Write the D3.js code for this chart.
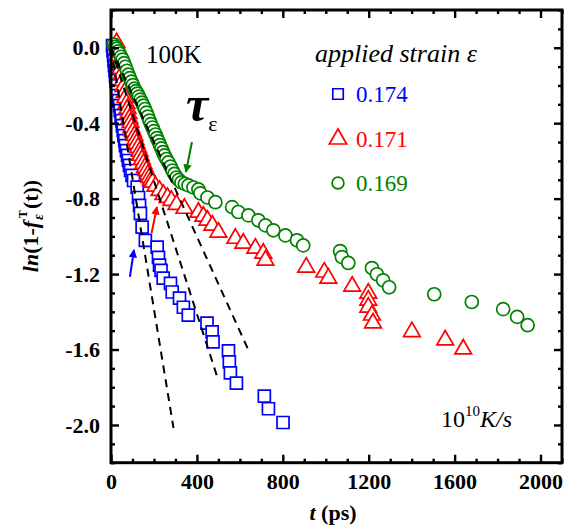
<!DOCTYPE html>
<html>
<head>
<meta charset="utf-8">
<script src="https://cdn.jsdelivr.net/npm/d3@7"></script>
<style>
  body { margin: 0; background: #fff; }
  svg { display: block; }
  text { font-family: "Liberation Serif", "Times New Roman", serif; }
</style>
</head>
<body>
<svg id="chart" width="579" height="529"></svg>
<script>
// Relaxation data ln(1 - f(t)) at 100 K for three applied strains
const blueT = [7,9,12,14,16,19,21,23,26,28,30,35,40,43,47,50,53,57,60,64,67,72,77,81,86,91,98,105,
  122,128,133,137,145,160,215,221,226,233,243,277,285,319,337,360,447,471,475,547,551,556,584,714,733,801];
const blueY = [0.011,-0.016,-0.042,-0.069,-0.095,-0.122,-0.148,-0.175,-0.201,-0.228,-0.254,-0.280,-0.307,-0.333,-0.360,-0.386,-0.413,-0.439,-0.466,-0.492,-0.519,-0.545,-0.571,-0.598,-0.624,-0.651,-0.677,-0.704,
  -0.739,-0.794,-0.836,-0.878,-0.951,-1.021,-1.057,-1.111,-1.153,-1.180,-1.222,-1.249,-1.295,-1.328,-1.376,-1.418,-1.460,-1.506,-1.559,-1.607,-1.665,-1.724,-1.778,-1.847,-1.914,-1.987];

const redT = [26,30,35,40,44,49,54,58,63,67,72,77,81,86,91,95,102,109,114,119,126,133,137,144,151,158,165,172,179,186,193,207,226,244,263,281,305,342,
  407,430,449,472,500,579,616,672,709,719,909,993,1012,1123,1198,1198,1198,1215,1220,1401,1556,1640];
const redY = [0.026,-0.005,-0.042,-0.074,-0.111,-0.143,-0.175,-0.206,-0.238,-0.265,-0.296,-0.323,-0.349,-0.376,-0.397,-0.423,-0.444,-0.466,-0.487,-0.508,-0.529,-0.550,-0.571,-0.593,-0.614,-0.635,-0.651,-0.672,-0.688,-0.704,-0.714,-0.735,-0.757,-0.778,-0.794,-0.810,-0.831,-0.852,
  -0.873,-0.894,-0.915,-0.942,-0.979,-1.011,-1.037,-1.063,-1.090,-1.127,-1.164,-1.190,-1.222,-1.265,-1.302,-1.339,-1.376,-1.418,-1.460,-1.506,-1.550,-1.598];

const greenT = [12,19,26,33,40,47,54,61,67,74,81,88,95,102,109,116,123,130,137,144,151,158,165,172,179,186,193,200,207,214,
  221,228,235,242,249,258,267,277,286,295,305,316,328,344,361,384,407,416,449,486,564,593,640,686,719,756,812,866,895,1067,
  1075,1105,1215,1238,1267,1295,1505,1680,1826,1891,1940];
const greenY = [0.016,0.005,-0.005,-0.019,-0.032,-0.048,-0.063,-0.082,-0.101,-0.122,-0.143,-0.161,-0.180,-0.198,-0.217,-0.230,-0.243,-0.259,-0.275,-0.291,-0.307,-0.325,-0.344,-0.365,-0.386,-0.405,-0.423,-0.442,-0.460,-0.479,
  -0.497,-0.516,-0.534,-0.553,-0.571,-0.590,-0.608,-0.630,-0.651,-0.669,-0.688,-0.701,-0.714,-0.722,-0.730,-0.741,-0.751,-0.772,-0.794,-0.819,-0.845,-0.871,-0.889,-0.915,-0.942,-0.968,-0.995,-1.021,-1.048,-1.078,
  -1.110,-1.141,-1.168,-1.201,-1.233,-1.270,-1.307,-1.348,-1.386,-1.427,-1.471];

// Initial-slope fits, drawn from the origin to these end points
const fitEndT = [291, 495, 640];
const fitEndY = [-2.016, -1.746, -1.603];

// Arrows marking tau_epsilon on each curve: tail -> head (data units)
const arrowTail = [[88, -1.215], [189, -0.982], [377, -0.500]];
const arrowHead = [[107, -1.072], [214, -0.844], [349, -0.659]];

const strainLabels = ["0.174", "0.171", "0.169"];
const xTicks = [0, 400, 800, 1200, 1600, 2000];
const yTicks = [0.0, -0.4, -0.8, -1.2, -1.6, -2.0];

const colors = ["#0000ff", "#ff0000", "#008000"];
const series = [
  { t: blueT, y: blueY, shape: d3.symbolSquare, size: 144 },
  { t: redT, y: redY, shape: d3.symbolTriangle, size: 120 },
  { t: greenT, y: greenY, shape: d3.symbolCircle, size: 133 }
];

const svg = d3.select("#chart");
const m = { left: 111, right: 562, top: 10, bottom: 462.7 };

const x = d3.scaleLinear().domain([0, 2100]).range([m.left, m.right]);
const y = d3.scaleLinear().domain([-2.2, 0.2]).range([m.bottom, m.top]);

const defs = svg.append("defs");
colors.forEach((c, i) => {
  defs.append("marker")
    .attr("id", "ah" + i)
    .attr("viewBox", "0 0 10 10")
    .attr("refX", 9).attr("refY", 5)
    .attr("markerWidth", 4.2).attr("markerHeight", 4.2)
    .attr("markerUnits", "strokeWidth")
    .attr("orient", "auto")
    .append("path").attr("d", "M0,0L10,5L0,10Z").attr("fill", c);
});

// Data markers (white-filled, drawn in order blue, red, green)
series.forEach((s, i) => {
  const sym = d3.symbol().type(s.shape).size(s.size);
  svg.append("g").selectAll("path")
    .data(s.t.map((t, k) => [t, s.y[k]]))
    .join("path")
    .attr("d", sym)
    .attr("transform", d => `translate(${x(d[0])},${y(d[1])})`)
    .attr("fill", "#fff")
    .attr("stroke", colors[i])
    .attr("stroke-width", 1.7);
});

// Dashed linear fits
svg.append("g").selectAll("line")
  .data(fitEndT.map((t, k) => [t, fitEndY[k]]))
  .join("line")
  .attr("x1", x(0)).attr("y1", y(0))
  .attr("x2", d => x(d[0])).attr("y2", d => y(d[1]))
  .attr("stroke", "#000").attr("stroke-width", 2)
  .attr("stroke-dasharray", "8,6");

// Arrows
svg.append("g").selectAll("line")
  .data(arrowTail.map((a, k) => [a, arrowHead[k], k]))
  .join("line")
  .attr("x1", d => x(d[0][0])).attr("y1", d => y(d[0][1]))
  .attr("x2", d => x(d[1][0])).attr("y2", d => y(d[1][1]))
  .attr("stroke", d => colors[d[2]]).attr("stroke-width", 2)
  .attr("marker-end", d => `url(#ah${d[2]})`);

// Axes: ticks inward on all four sides
const minorX = d3.range(0, 2101, 100).filter(v => v % 400 !== 0);
const minorY = d3.range(-22, 3, 1).map(v => v / 10).filter(v => Math.abs(Math.round(v * 10)) % 4 !== 0);

function styleAxis(g) {
  g.select(".domain").remove();
  g.selectAll(".tick line").attr("stroke", "#000").attr("stroke-width", 2.4);
}

const fontTick = "bold 22px 'Liberation Serif', serif";

svg.append("g").attr("transform", `translate(0,${m.bottom})`)
  .call(d3.axisBottom(x).tickValues(xTicks).tickSizeInner(-8).tickSizeOuter(0).tickPadding(11).tickFormat(d3.format("d")))
  .call(styleAxis)
  .call(g => g.selectAll("text").style("font", fontTick).attr("fill", "#000"));
svg.append("g").attr("transform", `translate(0,${m.bottom})`)
  .call(d3.axisBottom(x).tickValues(minorX).tickSizeInner(-4).tickSizeOuter(0).tickFormat(""))
  .call(styleAxis);
svg.append("g").attr("transform", `translate(0,${m.top})`)
  .call(d3.axisTop(x).tickValues(xTicks).tickSizeInner(-8).tickSizeOuter(0).tickFormat(""))
  .call(styleAxis);
svg.append("g").attr("transform", `translate(0,${m.top})`)
  .call(d3.axisTop(x).tickValues(minorX).tickSizeInner(-4).tickSizeOuter(0).tickFormat(""))
  .call(styleAxis);

svg.append("g").attr("transform", `translate(${m.left},0)`)
  .call(d3.axisLeft(y).tickValues(yTicks).tickSizeInner(-8).tickSizeOuter(0).tickPadding(11).tickFormat(d3.format(".1f")))
  .call(styleAxis)
  .call(g => g.selectAll("text").style("font", fontTick).attr("fill", "#000").text(d => d3.format(".1f")(d).replace("−", "-")));
svg.append("g").attr("transform", `translate(${m.left},0)`)
  .call(d3.axisLeft(y).tickValues(minorY).tickSizeInner(-4).tickSizeOuter(0).tickFormat(""))
  .call(styleAxis);
svg.append("g").attr("transform", `translate(${m.right},0)`)
  .call(d3.axisRight(y).tickValues(yTicks).tickSizeInner(-8).tickSizeOuter(0).tickFormat(""))
  .call(styleAxis);
svg.append("g").attr("transform", `translate(${m.right},0)`)
  .call(d3.axisRight(y).tickValues(minorY).tickSizeInner(-4).tickSizeOuter(0).tickFormat(""))
  .call(styleAxis);

// Frame
svg.append("rect")
  .attr("x", m.left).attr("y", m.top)
  .attr("width", m.right - m.left).attr("height", m.bottom - m.top)
  .attr("fill", "none").attr("stroke", "#000").attr("stroke-width", 3);

// Axis titles
const xt = svg.append("text").attr("x", 333).attr("y", 520).attr("text-anchor", "middle")
  .style("font-size", "22px").style("font-weight", "bold");
xt.append("tspan").style("font-style", "italic").text("t");
xt.append("tspan").text(" (ps)");

const yt = svg.append("text").attr("transform", "translate(38,226) rotate(-90)")
  .attr("text-anchor", "middle").style("font-size", "22px").style("font-weight", "bold");
yt.append("tspan").style("font-style", "italic").text("ln");
yt.append("tspan").text("(1-");
yt.append("tspan").style("font-style", "italic").text("f");
yt.append("tspan").style("font-style", "italic").style("font-size", "14px").attr("dx", 1).attr("dy", 5).text("ε");
yt.append("tspan").style("font-size", "12px").attr("dx", -4).attr("dy", -16).text("T");
yt.append("tspan").attr("dx", 1).attr("dy", 11).text("(t))");

// Annotations
svg.append("text").attr("x", 146).attr("y", 63).style("font-size", "25px").text("100K");

svg.append("text").attr("x", 315).attr("y", 62).style("font-size", "26px").style("font-style", "italic")
  .text("applied strain ε");

const tau = svg.append("text").attr("x", 186).attr("y", 121);
tau.append("tspan").style("font-size", "50px").style("font-style", "italic").style("font-weight", "bold").text("τ");
tau.append("tspan").style("font-size", "22px").attr("dy", 10).text("ε");

const rate = svg.append("text").attr("x", 441).attr("y", 427).style("font-size", "24px");
rate.append("tspan").text("10");
rate.append("tspan").style("font-size", "15px").attr("dy", -11).text("10");
rate.append("tspan").style("font-style", "italic").attr("dy", 11).text("K/s");

// Legend
const legendY = [94, 139, 183];
strainLabels.forEach((lab, i) => {
  const sym = d3.symbol().type(series[i].shape).size(i === 1 ? 130 : 110);
  svg.append("path").attr("d", sym)
    .attr("transform", `translate(338,${legendY[i]})`)
    .attr("fill", "#fff").attr("stroke", colors[i]).attr("stroke-width", 1.7);
  svg.append("text").attr("x", 356).attr("y", legendY[i] + 7.5)
    .style("font-size", "23px").attr("fill", colors[i]).text(lab);
});
</script>
</body>
</html>
